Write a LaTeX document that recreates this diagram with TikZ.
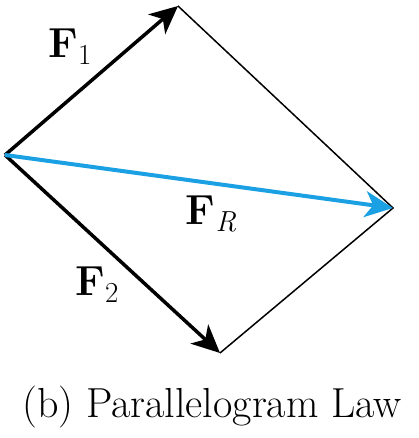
\documentclass[tikz,border=0pt]{standalone}
\usepackage{fontspec}
\usetikzlibrary{arrows.meta}
\definecolor{resblue}{RGB}{28,160,228}
\newcommand{\forcevec}[1]{\textbf{F}\raisebox{-0.4ex}{\fontsize{29}{29}\selectfont #1}}
\tikzset{
  force/.style={line width=3.5pt, -{Stealth[length=28pt,width=26pt,inset=8pt]}},
  side/.style={line width=1.5pt},
  flabel/.style={font=\fontsize{42}{44}\selectfont, inner sep=0pt}
}

\begin{document}
\begin{tikzpicture}[x=1pt, y=-1pt]
  \useasboundingbox (0,0) rectangle (418,438);
  % corners of the parallelogram
  \coordinate (O) at (5,155);
  \coordinate (A) at (178,6);
  \coordinate (B) at (220,353);
  \coordinate (C) at (393,208);

  \draw[side] (A) -- (C) -- (B);
  \draw[force] (O) -- (A);
  \draw[force] (O) -- (B);
  \draw[force, resblue, line width=4pt] (O) -- (C);

  \node[flabel] (f1) at (70,47) {\forcevec{1}};
  \node[flabel] (f2) at (97,285) {\forcevec{2}};
  \node[flabel] (fr) at (211,214) {\forcevec{\textit{R}}};

  \node[font=\fontsize{42}{50}\selectfont] (cap) at (212,407) {(b) Parallelogram Law};
\end{tikzpicture}
\end{document}
